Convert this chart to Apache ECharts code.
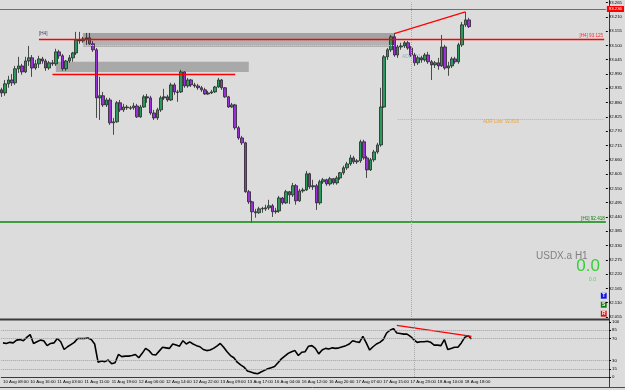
<!DOCTYPE html>
<html>
<head>
<meta charset="utf-8">
<style>
  html, body { margin: 0; padding: 0; background: #dcdcdc; }
  #main { width: 625px; height: 390px; }
</style>
<script src="https://cdn.jsdelivr.net/npm/echarts@6/dist/echarts.min.js"></script>
</head>
<body>
<div id="main"></div>
<script>
// USDX.a H1, 10 Aug 08:00 .. 18 Aug 20:00, one label every 8 bars
const timeLabels = [
  "10 Aug 08:00", "10 Aug 16:00", "11 Aug 03:00", "11 Aug 11:00", "11 Aug 19:00",
  "12 Aug 06:00", "12 Aug 14:00", "12 Aug 22:00", "13 Aug 09:00", "13 Aug 17:00",
  "16 Aug 04:00", "16 Aug 12:00", "16 Aug 20:00", "17 Aug 07:00", "17 Aug 15:00",
  "17 Aug 23:00", "18 Aug 10:00", "18 Aug 18:00"
];
const barsPerLabel = 8;
const totalSlots = 179; // bars + empty shift on the right

const opens = [
  92.929, 92.917, 92.952, 92.967, 92.956, 93.010, 93.021, 92.998, 93.040, 93.052,
  93.013, 93.029, 93.048, 93.040, 93.013, 93.033, 93.029, 93.075, 93.060, 93.010,
  93.040, 93.052, 93.071, 93.121, 93.117, 93.125, 93.129, 93.106, 93.083, 92.898,
  92.906, 92.871, 92.890, 92.802, 92.806, 92.879, 92.852, 92.863, 92.860, 92.860,
  92.867, 92.825, 92.863, 92.902, 92.898, 92.840, 92.821, 92.852, 92.898, 92.902,
  92.890, 92.948, 92.921, 92.921, 92.998, 92.944, 92.967, 92.948, 92.944, 92.937,
  92.929, 92.913, 92.917, 92.921, 92.940, 92.967, 92.937, 92.902, 92.863, 92.871,
  92.783, 92.744, 92.725, 92.537, 92.498, 92.460, 92.456, 92.471, 92.471, 92.475,
  92.483, 92.460, 92.463, 92.513, 92.494, 92.537, 92.525, 92.560, 92.502, 92.540,
  92.544, 92.606, 92.556, 92.560, 92.494, 92.575, 92.583, 92.567, 92.587, 92.571,
  92.590, 92.610, 92.629, 92.644, 92.667, 92.652, 92.656, 92.729, 92.667, 92.621,
  92.660, 92.690, 92.717, 92.863, 93.056, 93.083, 93.133, 93.063, 93.094, 93.098,
  93.110, 93.090, 93.063, 93.033, 93.052, 93.044, 93.063, 93.037, 93.025, 93.033,
  93.021, 93.094, 93.013, 93.021, 93.048, 93.037, 93.102, 93.179, 93.198
];
const closes = [
  92.917, 92.952, 92.967, 92.956, 93.010, 93.021, 92.998, 93.040, 93.052, 93.013,
  93.029, 93.048, 93.040, 93.013, 93.033, 93.029, 93.075, 93.060, 93.010, 93.040,
  93.052, 93.071, 93.121, 93.117, 93.125, 93.129, 93.106, 93.083, 92.898, 92.906,
  92.871, 92.890, 92.802, 92.806, 92.879, 92.852, 92.863, 92.860, 92.858, 92.867,
  92.825, 92.863, 92.902, 92.898, 92.840, 92.821, 92.852, 92.898, 92.902, 92.890,
  92.948, 92.921, 92.919, 92.998, 92.944, 92.967, 92.948, 92.944, 92.937, 92.929,
  92.913, 92.917, 92.921, 92.940, 92.967, 92.937, 92.902, 92.863, 92.871, 92.783,
  92.744, 92.725, 92.537, 92.498, 92.460, 92.456, 92.471, 92.473, 92.475, 92.483,
  92.460, 92.463, 92.513, 92.494, 92.537, 92.525, 92.560, 92.502, 92.540, 92.544,
  92.606, 92.556, 92.560, 92.494, 92.575, 92.583, 92.567, 92.587, 92.571, 92.590,
  92.610, 92.629, 92.644, 92.667, 92.652, 92.656, 92.729, 92.667, 92.621, 92.660,
  92.690, 92.717, 92.863, 93.056, 93.083, 93.133, 93.063, 93.094, 93.098, 93.110,
  93.090, 93.063, 93.033, 93.052, 93.044, 93.063, 93.037, 93.025, 93.033, 93.021,
  93.094, 93.013, 93.021, 93.048, 93.037, 93.102, 93.179, 93.198, 93.172
];
const lows = [
  92.902, 92.906, 92.937, 92.944, 92.948, 92.994, 92.987, 92.994, 93.021, 92.979,
  93.006, 93.013, 93.029, 93.002, 93.006, 93.021, 93.021, 93.048, 93.002, 93.002,
  93.033, 93.037, 93.063, 93.106, 93.110, 93.102, 93.098, 93.075, 92.821, 92.813,
  92.863, 92.863, 92.794, 92.756, 92.802, 92.844, 92.844, 92.852, 92.852, 92.852,
  92.821, 92.821, 92.860, 92.879, 92.833, 92.813, 92.813, 92.844, 92.890, 92.883,
  92.886, 92.910, 92.883, 92.917, 92.937, 92.937, 92.940, 92.937, 92.929, 92.921,
  92.910, 92.910, 92.913, 92.917, 92.937, 92.929, 92.898, 92.860, 92.860, 92.775,
  92.737, 92.717, 92.533, 92.490, 92.418, 92.437, 92.452, 92.456, 92.463, 92.467,
  92.440, 92.452, 92.456, 92.487, 92.490, 92.490, 92.517, 92.487, 92.498, 92.533,
  92.540, 92.548, 92.544, 92.467, 92.487, 92.567, 92.560, 92.560, 92.564, 92.564,
  92.583, 92.602, 92.621, 92.637, 92.644, 92.644, 92.648, 92.660, 92.590, 92.617,
  92.652, 92.683, 92.710, 92.860, 93.044, 93.075, 93.056, 93.052, 93.083, 93.090,
  93.083, 93.056, 93.021, 93.025, 93.033, 93.037, 93.029, 92.967, 93.013, 93.006,
  93.017, 93.006, 92.983, 93.013, 93.029, 93.029, 93.094, 93.171, 93.167
];
const highs = [
  92.937, 92.967, 92.983, 92.990, 93.021, 93.056, 93.029, 93.056, 93.098, 93.063,
  93.044, 93.060, 93.056, 93.048, 93.040, 93.044, 93.087, 93.083, 93.067, 93.044,
  93.063, 93.075, 93.152, 93.152, 93.133, 93.148, 93.148, 93.117, 93.090, 92.979,
  92.921, 92.898, 92.898, 92.821, 92.886, 92.890, 92.875, 92.871, 92.867, 92.879,
  92.875, 92.871, 92.910, 92.913, 92.906, 92.852, 92.860, 92.906, 92.933, 92.910,
  92.956, 92.956, 92.929, 93.006, 93.000, 92.975, 92.971, 92.956, 92.952, 92.944,
  92.937, 92.925, 92.929, 92.944, 92.975, 92.971, 92.940, 92.906, 92.879, 92.875,
  92.790, 92.752, 92.729, 92.544, 92.502, 92.471, 92.479, 92.479, 92.487, 92.506,
  92.490, 92.475, 92.521, 92.517, 92.544, 92.540, 92.571, 92.567, 92.548, 92.552,
  92.617, 92.610, 92.583, 92.567, 92.583, 92.590, 92.587, 92.594, 92.590, 92.598,
  92.613, 92.637, 92.652, 92.679, 92.675, 92.663, 92.737, 92.737, 92.675, 92.667,
  92.698, 92.725, 92.937, 93.063, 93.090, 93.140, 93.148, 93.102, 93.110, 93.117,
  93.117, 93.098, 93.071, 93.060, 93.060, 93.071, 93.075, 93.044, 93.040, 93.052,
  93.140, 93.102, 93.037, 93.056, 93.056, 93.110, 93.190, 93.229, 93.206
];

// oscillator in the lower window (0..100)
const osc = [
  62, 61, 63, 62, 67, 68, 66, 72, 77, 61,
  64, 67, 66, 57, 61, 62, 70, 64, 50, 55,
  59, 63, 70, 70, 70, 71, 68, 60, 27, 29,
  28, 31, 24, 26, 41, 37, 38, 38, 39, 41,
  35, 43, 52, 48, 41, 40, 47, 54, 53, 52,
  60, 58, 56, 66, 60, 64, 60, 57, 55, 50,
  48, 49, 52, 56, 61, 54, 46, 39, 35, 27,
  22, 18, 11, 9, 7, 6, 9, 12, 15, 17,
  19, 26, 33, 38, 43, 46, 48, 39, 45, 46,
  56, 57, 52, 42, 49, 52, 51, 53, 52, 53,
  55, 57, 60, 66, 64, 63, 74, 62, 49, 55,
  60, 63, 68, 80, 85, 88, 80, 79, 78, 78,
  74, 68, 63, 64, 64, 65, 63, 58, 58, 57,
  68, 50, 52, 54, 54, 62, 72, 75, 69
];
const oscLevels = [15, 30, 70, 85];
const oscAxisValues = [0, 15, 30, 70, 85, 100];

// drawn objects: [bar index, price]
const priceTrend = [[116, 93.145], [137, 93.229]];
const oscTrend = [[116, 94], [138, 74]];
// zones: [from bar, to bar, low, high]
const zones = [
  [24, 116, 93.125, 93.148],
  [24, 116, 93.094, 93.125],
  [16, 73, 92.998, 93.037]
];
const zoneColors = ["#a3a3a3", "#b2b2b2", "#a9a9a9"];
const zoneMidLine = [24, 116, 93.102];
const h4Level = [11, 178, 93.125];
const supportLine = [15, 69, 92.99];
const alertLevel = 93.236;
const h1Level = 92.418;
const adrLow = [117, 178, 92.816];
const lastPrice = 93.172;
const daySeparator = 121;

const categories = [];
for (let i = 0; i < totalSlots; i++) {
  const li = i / barsPerLabel;
  categories.push(i % barsPerLabel === 0 && li < timeLabels.length ? timeLabels[li] : String(i));
}
const showLabel = (index) => index % barsPerLabel === 0 && index / barsPerLabel < timeLabels.length;

const candles = opens.map((o, i) => [o, closes[i], lows[i], highs[i]]);

const FONT = "Liberation Sans";
const axisFont = { fontSize: 4.3, color: "#000", fontFamily: FONT };

const chart = echarts.init(document.getElementById("main"));

chart.setOption({
  animation: false,
  backgroundColor: "#dcdcdc",
  grid: [
    { left: 0, top: 2.5, width: 609, height: 314.5 },
    { left: 0, top: 322, width: 609, height: 55 }
  ],
  xAxis: [
    {
      type: "category", gridIndex: 0, data: categories, boundaryGap: true,
      axisLine: { show: false }, axisTick: { show: false }, axisLabel: { show: false }
    },
    {
      type: "category", gridIndex: 1, data: categories, boundaryGap: true,
      axisLine: { lineStyle: { color: "#3a3a3a", width: 1 } },
      axisTick: { interval: showLabel, alignWithLabel: true, length: 2, lineStyle: { color: "#000" } },
      axisLabel: Object.assign({ interval: showLabel, align: "left", margin: 3 }, axisFont)
    }
  ],
  yAxis: [
    {
      type: "value", gridIndex: 0, position: "right",
      min: 92.055, max: 93.265, interval: 0.055,
      axisLine: { show: false },
      axisTick: { show: true, length: 2, lineStyle: { color: "#000" } },
      splitLine: { show: false },
      axisLabel: Object.assign({ margin: 3, formatter: (v) => v.toFixed(3) }, axisFont)
    },
    {
      type: "value", gridIndex: 1, position: "right", min: 0, max: 100,
      axisLine: { show: false },
      axisTick: { show: true, length: 2, customValues: oscAxisValues, lineStyle: { color: "#000" } },
      splitLine: { show: false },
      axisLabel: Object.assign({ margin: 3, customValues: oscAxisValues }, axisFont)
    }
  ],
  series: [
    {
      // supply / demand zones
      name: "zones", type: "line", data: [], z: 1, silent: true,
      markArea: {
        silent: true,
        data: zones.map((z, i) => [
          { coord: [z[0], z[3]], itemStyle: { color: zoneColors[i] } },
          { coord: [z[1], z[2]] }
        ])
      }
    },
    {
      name: "USDX.a", type: "candlestick", data: candles, z: 3,
      barWidth: 3,
      itemStyle: {
        color: "#2a9a5c", color0: "#9b30d8",
        borderColor: "#262626", borderColor0: "#262626", borderWidth: 0.8
      }
    },
    {
      // levels and labels, not clipped so axis boxes show
      name: "levels", type: "line", data: [], z: 4, clip: false, silent: true,
      markLine: {
        silent: true, symbol: ["none", "none"], animation: false,
        label: { show: false },
        data: [
          {
            yAxis: alertLevel, lineStyle: { color: "#ff3030", width: 1, type: "solid" },
            label: {
              show: true, position: "end", distance: 1, formatter: alertLevel.toFixed(3),
              backgroundColor: "#ff0000", color: "#fff", padding: [1, 2], fontSize: 4.3, fontFamily: FONT
            }
          },
          {
            yAxis: lastPrice, lineStyle: { width: 0, opacity: 0 },
            label: {
              show: true, position: "end", distance: 1, formatter: lastPrice.toFixed(3),
              backgroundColor: "#000", color: "#fff", padding: [1, 2], fontSize: 4.3, fontFamily: FONT
            }
          },
          {
            yAxis: h1Level, lineStyle: { color: "#0a8a0a", width: 1.5, type: "solid" },
            label: {
              show: true, position: "insideEndTop", distance: 1, formatter: "[H1] " + h1Level.toFixed(3),
              color: "#0a7a0a", fontSize: 4.6, fontFamily: FONT
            }
          },
          [
            {
              coord: [h4Level[0], h4Level[2]], lineStyle: { color: "#ff0000", width: 1.3, type: "solid" },
              label: {
                show: true, position: "insideEndTop", distance: 1, formatter: "[H4] " + h4Level[2].toFixed(3),
                color: "#ff2a2a", fontSize: 4.6, fontFamily: FONT
              }
            },
            { coord: [h4Level[1], h4Level[2]] }
          ],
          [
            { coord: [supportLine[0], supportLine[2]], lineStyle: { color: "#ff0000", width: 1.3, type: "solid" } },
            { coord: [supportLine[1], supportLine[2]] }
          ],
          [
            { coord: [zoneMidLine[0], zoneMidLine[2]], lineStyle: { color: "#cdcdcd", width: 1, type: "dotted" } },
            { coord: [zoneMidLine[1], zoneMidLine[2]] }
          ],
          [
            {
              coord: [adrLow[0], adrLow[2]], lineStyle: { color: "#f2a93b", width: 1, type: "dotted" },
              label: {
                show: true, position: "insideMiddleBottom", distance: 0, formatter: "ADR Low: " + adrLow[2].toFixed(3),
                color: "#f0a030", fontSize: 4.6, fontFamily: FONT
              }
            },
            { coord: [adrLow[1], adrLow[2]] }
          ],
          { xAxis: daySeparator, lineStyle: { color: "#a8a8a8", width: 1, type: "dotted" } }
        ]
      }
    },
    {
      name: "trend", type: "line", data: priceTrend, z: 5,
      symbol: "none", silent: true,
      lineStyle: { color: "#ff0000", width: 1.2 }
    },
    {
      name: "osc", type: "line", xAxisIndex: 1, yAxisIndex: 1, data: osc, z: 3,
      symbol: "none", silent: true,
      lineStyle: { color: "#000", width: 1.6 },
      markLine: {
        silent: true, symbol: ["none", "none"], label: { show: false },
        data: oscLevels.map((v) => ({ yAxis: v, lineStyle: { color: "#a0a0a0", width: 1, type: "dotted" } }))
          .concat([{ xAxis: daySeparator, lineStyle: { color: "#a8a8a8", width: 1, type: "dotted" } }])
      }
    },
    {
      name: "oscTrend", type: "line", xAxisIndex: 1, yAxisIndex: 1, data: oscTrend, z: 4,
      symbol: "none", silent: true,
      lineStyle: { color: "#ff0000", width: 1.2 }
    }
  ],
  graphic: {
    elements: [
      { type: "line", silent: true, shape: { x1: 0, y1: 319.5, x2: 609, y2: 319.5 }, style: { stroke: "#3a3a3a", lineWidth: 2 } },
      { type: "line", silent: true, shape: { x1: 609.5, y1: 0, x2: 609.5, y2: 388 }, style: { stroke: "#3a3a3a", lineWidth: 1 } },
      { type: "line", silent: true, shape: { x1: 0, y1: 387.5, x2: 625, y2: 387.5 }, style: { stroke: "#4a4a4a", lineWidth: 1 } },
      { type: "text", silent: true, style: { x: 39, y: 34, text: "[H4]", fill: "#3c3c5c", font: "4.6px " + FONT, textVerticalAlign: "middle" } },
      { type: "text", silent: true, style: { x: 402, y: 57, text: "ADR: 51", fill: "#8fb2c6", font: "5px " + FONT, textVerticalAlign: "middle" } },
      { type: "text", silent: true, style: { x: 536, y: 256.5, text: "USDX.a H1", fill: "#808080", font: "10px " + FONT, textVerticalAlign: "middle" } },
      { type: "text", silent: true, style: { x: 600, y: 266, text: "0.0", fill: "#33d133", font: "17px " + FONT, textAlign: "right", textVerticalAlign: "middle" } },
      { type: "text", silent: true, style: { x: 592.5, y: 279, text: "0.0", fill: "#66cc66", font: "5.5px " + FONT, textAlign: "center", textVerticalAlign: "middle" } },
      { type: "rect", silent: true, shape: { x: 600.5, y: 292.5, width: 6.5, height: 6.5 }, style: { fill: "#1414e6", stroke: "#e8e8e8", lineWidth: 0.6 } },
      { type: "text", silent: true, style: { x: 603.75, y: 296, text: "T", fill: "#fff", font: "bold 5px " + FONT, textAlign: "center", textVerticalAlign: "middle" } },
      { type: "rect", silent: true, shape: { x: 600.5, y: 301.5, width: 6.5, height: 6.5 }, style: { fill: "#0d7a0d", stroke: "#e8e8e8", lineWidth: 0.6 } },
      { type: "text", silent: true, style: { x: 603.75, y: 305, text: "S", fill: "#fff", font: "bold 5px " + FONT, textAlign: "center", textVerticalAlign: "middle" } },
      { type: "rect", silent: true, shape: { x: 600.5, y: 310.5, width: 6.5, height: 6.5 }, style: { fill: "#d81414", stroke: "#e8e8e8", lineWidth: 0.6 } },
      { type: "text", silent: true, style: { x: 603.75, y: 314, text: "R", fill: "#fff", font: "bold 5px " + FONT, textAlign: "center", textVerticalAlign: "middle" } }
    ]
  }
});
</script>
</body>
</html>
